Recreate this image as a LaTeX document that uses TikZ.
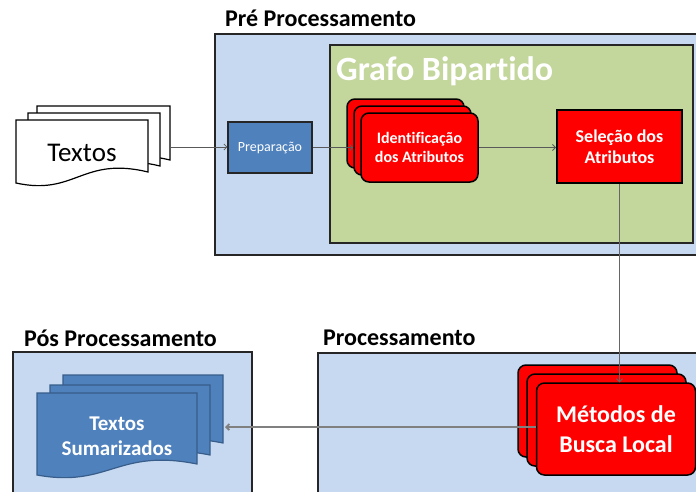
\documentclass[tikz,border=0pt]{standalone}
\usepackage{fontspec}
\setmainfont{Carlito}[Ligatures={NoCommon}]
\usetikzlibrary{arrows.meta}

\definecolor{azulclaro}{HTML}{C6D9F1}
\definecolor{verdeclaro}{HTML}{C3D69B}
\definecolor{azul}{HTML}{4F81BD}
\definecolor{azulborda}{HTML}{385D8A}
\definecolor{vermelho}{HTML}{FF0000}

% forma de documento: estilo, x, y, largura, altura
\newcommand{\documento}[5]{%
  \draw[#1, shift={(#2,#3)}] (0,0) -- (#4,0) -- (#4,#5-14)
    .. controls (0.5*#4,#5-30) and (0.45*#4,#5+10) .. (0,#5-3) -- cycle;}

\tikzset{
  titulo/.style={font=\fontsize{24}{24}\selectfont\bfseries, inner sep=0pt},
  bloco/.style={draw=black!85, line width=2pt, fill=azulclaro},
  cartao/.style={draw=black, line width=1.5pt, fill=vermelho, rounded corners=8pt,
    text=white, align=center, inner sep=0pt},
  seta/.style={draw=black!65, line width=0.8pt, -{Straight Barb[length=3pt,width=6pt]}},
}

\begin{document}
\begin{tikzpicture}[x=1pt, y=-1pt]
			\clip (0,0) rectangle (696,491);

			% Blocos
			\draw[bloco] (215,34) rectangle (705,255);
			\draw[draw=black!85, line width=1.5pt, fill=verdeclaro] (330,45) rectangle (693,243);
			\draw[bloco] (318,353) rectangle (705,500);
			\draw[bloco] (13,352) rectangle (252,500);

			% Titulos
			\node at (225,18) [anchor=west, titulo] (tit-pre) {Pré Processamento};
			\node at (323,338) [anchor=west, titulo] (tit-proc) {Processamento};
			\node at (24,338) [anchor=west, titulo] (tit-pos) {Pós Processamento};
			\node at (336,71) [anchor=west, inner sep=0pt, text=white,
				font=\fontsize{34}{34}\selectfont\bfseries] (grafo) {Grafo Bipartido};

			% Textos
			\documento{draw=black, line width=1.2pt, fill=white}{37}{106}{133}{68}
			\documento{draw=black, line width=1.2pt, fill=white}{28}{113}{132}{67}
			\documento{draw=black, line width=1.2pt, fill=white}{16}{120}{132}{66}
			\node at (82,153) [font=\fontsize{27}{27}\selectfont] (textos) {Textos};
			\coordinate (textos-saida) at (170,147);

			% Preparacao
			\node at (270,147.5) [draw=black!85, line width=1.2pt, fill=azul, text=white,
				minimum width=84pt, minimum height=51pt, inner sep=0pt,
				font=\fontsize{14}{14}\selectfont] (prep) {Preparação};

			% Identificacao dos Atributos
			\node at (405.5,133.5) [cartao, minimum width=117pt, minimum height=69pt] (ident3) {};
			\node at (412.5,140.5) [cartao, minimum width=117pt, minimum height=69pt] (ident2) {};
			\node at (419.5,147.5) [cartao, minimum width=117pt, minimum height=69pt,
				font=\fontsize{16}{19}\selectfont\bfseries] (ident) {Identificação\\dos Atributos};

			% Selecao dos Atributos
			\node at (619.5,146.5) [draw=black, line width=2pt, fill=vermelho, text=white,
				minimum width=125pt, minimum height=73pt, inner sep=0pt, align=center,
				font=\fontsize{18}{21}\selectfont\bfseries] (sel) {Seleção dos\\Atributos};

			% Metodos de Busca Local
			\node at (597.5,411) [cartao, minimum width=159pt, minimum height=92pt] (met3) {};
			\node at (606.5,420) [cartao, minimum width=159pt, minimum height=92pt] (met2) {};
			\node at (616,429) [cartao, minimum width=159pt, minimum height=92pt,
				font=\fontsize{24}{30}\selectfont\bfseries] (met) {Métodos de\\Busca Local};

			% Textos Sumarizados
			\documento{draw=azulborda, line width=1.2pt, fill=azul}{63}{375}{160}{82}
			\documento{draw=azulborda, line width=1.2pt, fill=azul}{50}{385}{160}{84}
			\documento{draw=azulborda, line width=1.2pt, fill=azul}{37}{393}{160}{85}
			\node at (117,436) [text=white, align=center, inner sep=0pt,
				font=\fontsize{21}{25}\selectfont\bfseries] (sumarizados) {Textos\\Sumarizados};
			\coordinate (sum-entrada) at (225,427);

			% Setas
			\draw[seta] (textos-saida) -- (textos-saida -| prep.west);
			\draw[seta] (prep.east) -- (prep.east -| ident2.west);
			\draw[seta] (ident.east) -- (ident.east -| sel.west);
			\draw[seta, draw=black!60] (sel.south) -- (sel.south |- met.north);
			\draw[seta, draw=black!50, line width=1.8pt] (met.west |- sum-entrada) -- (sum-entrada);
		\end{tikzpicture}
\end{document}
